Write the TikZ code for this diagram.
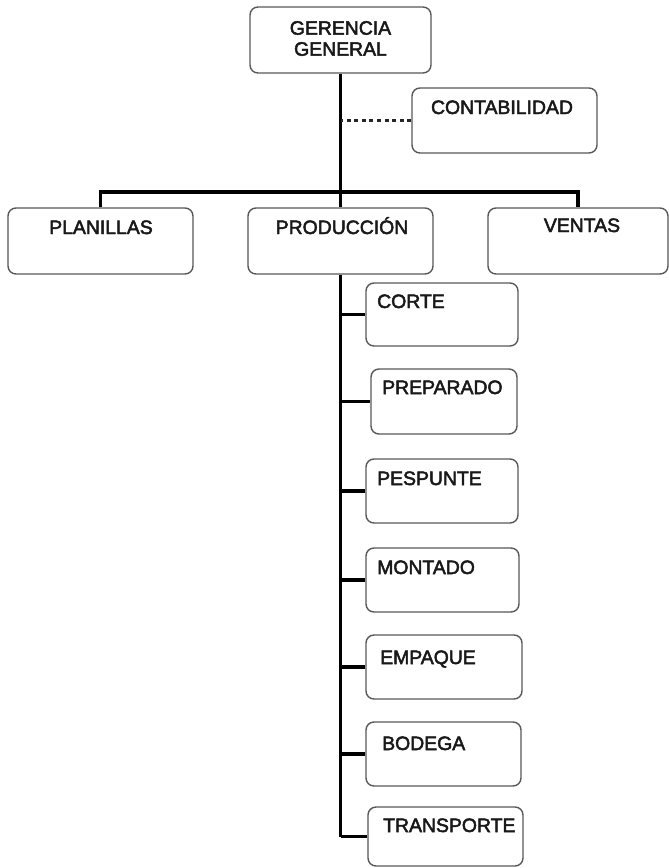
\documentclass[tikz,border=0pt]{standalone}
\usepackage{fontspec}
\setmainfont{Liberation Sans}
% regular Arial-metric face, lightly emboldened for the labels
\newfontfamily\lblfont{Liberation Sans}[BoldFont={Liberation Sans}, BoldFeatures={FakeBold=2.5}]
\begin{document}
\begin{tikzpicture}[x=1pt,y=-1pt,
  unitbox/.style={draw=black!65, line width=1.4pt, rounded corners=8pt,
    rectangle, inner sep=0pt, fill=white},
  lbl/.style={inner sep=0pt, text=black!90, font=\lblfont\fontsize{19.4}{21}\bfseries},
  conn/.style={draw=black, line width=3.2pt},
  dotconn/.style={draw=black!85, line width=3.6pt, dash pattern=on 4pt off 3.6pt}]
\useasboundingbox (0,0) rectangle (669,868);
\fill[white] (0,0) rectangle (669,868);

% top level
\node[unitbox, minimum width=181pt, minimum height=66pt] (gg) at (340.5,40) {};
\node[unitbox, minimum width=185pt, minimum height=65pt] (cont) at (504.5,120.5) {};

% departments
\node[unitbox, minimum width=185pt, minimum height=66pt] (plan) at (100.5,241) {};
\node[unitbox, minimum width=185pt, minimum height=66pt] (prod) at (340.5,241) {};
\node[unitbox, minimum width=180pt, minimum height=66pt] (vent) at (578,241) {};

% production sections
\node[unitbox, minimum width=152pt, minimum height=63pt] (corte) at (442,314.5) {};
\node[unitbox, minimum width=146pt, minimum height=65pt] (prep) at (444,401.5) {};
\node[unitbox, minimum width=152pt, minimum height=64pt] (pesp) at (442,491) {};
\node[unitbox, minimum width=153pt, minimum height=64pt] (mont) at (442.5,580) {};
\node[unitbox, minimum width=156pt, minimum height=64pt] (empa) at (444,667) {};
\node[unitbox, minimum width=155pt, minimum height=64pt] (bode) at (443.5,754) {};
\node[unitbox, minimum width=155pt, minimum height=59pt] (tran) at (445.5,836.5) {};

% labels
\node[lbl, align=center] (gg-t) at (340.5,38.5) {GERENCIA\\GENERAL};
\node[lbl, anchor=base] (cont-t) at (502,114) {CONTABILIDAD};
\node[lbl, anchor=base] (plan-t) at (101,234) {PLANILLAS};
\node[lbl, anchor=base] (prod-t) at (342,234) {PRODUCCIÓN};
\node[lbl, anchor=base] (vent-t) at (582,232) {VENTAS};
\node[lbl, anchor=base west] (corte-t) at (377,308) {CORTE};
\node[lbl, anchor=base west] (prep-t) at (382,394) {PREPARADO};
\node[lbl, anchor=base west] (pesp-t) at (377,485) {PESPUNTE};
\node[lbl, anchor=base west] (mont-t) at (377,574) {MONTADO};
\node[lbl, anchor=base west] (empa-t) at (380,664) {EMPAQUE};
\node[lbl, anchor=base west] (bode-t) at (382,750) {BODEGA};
\node[lbl, anchor=base west] (tran-t) at (383,832) {TRANSPORTE};

% connectors
\coordinate (hub) at (340.5,192);
\draw[conn] (gg.south) -- (prod.north);
\draw[conn] (plan.north) |- (hub) -| (vent.north);
\draw[dotconn] (cont.west) -- (cont.west -| gg.south);
\draw[conn] (prod.south) -- (prod.south |- tran.west);
\foreach \c in {corte,prep,pesp,mont,empa,bode,tran}
  \draw[conn] (\c.west -| prod.south) -- (\c.west);
\end{tikzpicture}
\end{document}
